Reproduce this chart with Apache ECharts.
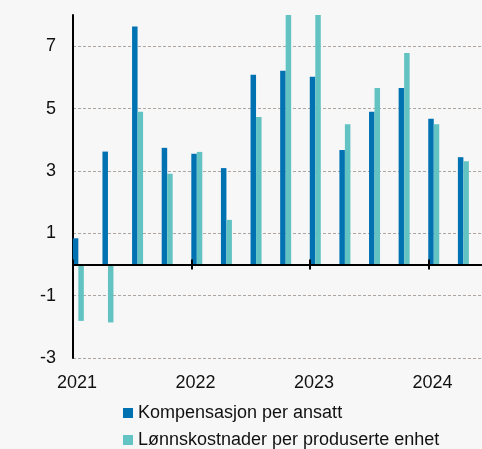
<!DOCTYPE html>
<html>
<head>
<meta charset="utf-8">
<script src="https://cdn.jsdelivr.net/npm/echarts@6/dist/echarts.min.js"></script>
<style>
html,body{margin:0;padding:0;background:#f7f7f7;}
#c{width:482px;height:449px;}
</style>
</head>
<body>
<div id="c"></div>
<script>
// Quarters 2021Q1 .. 2024Q2 (index 0..13)
var quarters = ['2021K1','2021K2','2021K3','2021K4','2022K1','2022K2','2022K3','2022K4','2023K1','2023K2','2023K3','2023K4','2024K1','2024K2'];
var yearLabels = ['2021','2022','2023','2024'];
var yTickValues = [-3,-1,1,3,5,7];
var seriesNames = ['Kompensasjon per ansatt','Lønnskostnader per produserte enhet'];
var kompensasjon = [0.84, 3.62, 7.63, 3.74, 3.55, 3.09, 6.08, 6.21, 6.02, 3.67, 4.90, 5.66, 4.67, 3.44];
var lonnskostnader = [-1.81, -1.86, 4.90, 2.91, 3.61, 1.43, 4.73, 9.0, 8.9, 4.50, 5.66, 6.78, 4.50, 3.31];

var FONT = 'Liberation Sans';
function pairs(arr){ return arr.map(function(v,i){ return [i, v]; }); }

var xCommon = { type:'value', min:-0.18, max:14, interval:4, splitLine:{show:false} };
var yCommon = { type:'value', min:-3, max:8, interval:2 };

function legendFor(i, top){
  return {
    orient:'vertical', left:118, top:top,
    itemWidth:10, itemHeight:10,
    icon:'rect',
    textStyle:{fontFamily:FONT, fontSize:18, color:'#111'},
    data:[seriesNames[i]]
  };
}

var chart = echarts.init(document.getElementById('c'), null, {renderer:'canvas'});
chart.setOption({
  backgroundColor:'#f7f7f7',
  animation:false,
  textStyle:{fontFamily:FONT},
  grid:{left:73, width:420, top:15, bottom:91, containLabel:false, outerBoundsMode:'none'},
  legend:[legendFor(0, 399), legendFor(1, 426)],
  xAxis:[
    Object.assign({}, xCommon, {
      position:'bottom',
      axisLine:{show:false, onZero:false},
      axisTick:{show:false},
      axisLabel:{show:true, margin:16, fontSize:18, color:'#111', fontFamily:FONT, showMaxLabel:false,
        padding:[0,0,0,8],
        formatter:function(v, idx){ return yearLabels[idx] || ''; }}
    }),
    Object.assign({}, xCommon, {
      position:'bottom', z:5,
      axisLine:{show:true, onZero:true, onZeroAxisIndex:0, lineStyle:{color:'#000', width:2}},
      axisTick:{show:true, inside:false, length:5, lineStyle:{color:'#000', width:2}},
      axisLabel:{show:false}
    }),
    Object.assign({}, xCommon, {
      position:'bottom', z:5,
      axisLine:{show:true, onZero:true, onZeroAxisIndex:1, lineStyle:{color:'#000', width:2}},
      axisTick:{show:true, inside:true, length:5, lineStyle:{color:'#000', width:2}},
      axisLabel:{show:false}
    })
  ],
  yAxis:[
    Object.assign({}, yCommon, {
      position:'left',
      axisLine:{show:true, onZero:false, lineStyle:{color:'#000', width:2}},
      axisTick:{show:false},
      axisLabel:{fontSize:18, color:'#111', margin:17, fontFamily:FONT, showMaxLabel:false},
      splitLine:{show:true, showMaxLine:false, showMinLine:true,
        lineStyle:{color:'#ada5a0', width:1, type:[3,2]}}
    }),
    Object.assign({}, yCommon, {
      position:'right',
      axisLine:{show:false, onZero:false},
      axisTick:{show:false},
      axisLabel:{show:false},
      splitLine:{show:false}
    })
  ],
  series:[
    {name:seriesNames[0], type:'bar', xAxisIndex:0, yAxisIndex:0, data:pairs(kompensasjon),
     barWidth:5.5, barGap:'0%', itemStyle:{color:'#0072b2'}, clip:true},
    {name:seriesNames[1], type:'bar', xAxisIndex:0, yAxisIndex:0, data:pairs(lonnskostnader),
     barWidth:5.5, barGap:'0%', itemStyle:{color:'#63c3c3'}, clip:true}
  ]
});
</script>
</body>
</html>
